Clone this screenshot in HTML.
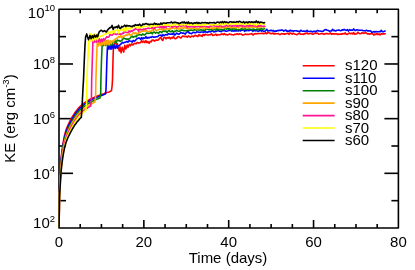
<!DOCTYPE html>
<html><head><meta charset="utf-8"><style>html,body{margin:0;padding:0;background:#fff}body{width:415px;height:270px;overflow:hidden;position:relative;font-family:"Liberation Sans",sans-serif}</style></head><body>
<svg width="415" height="270" viewBox="0 0 415 270" style="position:absolute;left:0;top:0;will-change:transform;transform:translateZ(0)">
<g stroke="#000" stroke-width="1.6" fill="none" stroke-linecap="butt" stroke-linejoin="round">
<rect x="59.00" y="9.30" width="339.40" height="218.70"/>
<line x1="80.21" y1="228.00" x2="80.21" y2="224.00"/>
<line x1="80.21" y1="9.30" x2="80.21" y2="13.30"/>
<line x1="101.42" y1="228.00" x2="101.42" y2="224.00"/>
<line x1="101.42" y1="9.30" x2="101.42" y2="13.30"/>
<line x1="122.64" y1="228.00" x2="122.64" y2="224.00"/>
<line x1="122.64" y1="9.30" x2="122.64" y2="13.30"/>
<line x1="143.85" y1="228.00" x2="143.85" y2="220.00"/>
<line x1="143.85" y1="9.30" x2="143.85" y2="17.30"/>
<line x1="165.06" y1="228.00" x2="165.06" y2="224.00"/>
<line x1="165.06" y1="9.30" x2="165.06" y2="13.30"/>
<line x1="186.28" y1="228.00" x2="186.28" y2="224.00"/>
<line x1="186.28" y1="9.30" x2="186.28" y2="13.30"/>
<line x1="207.49" y1="228.00" x2="207.49" y2="224.00"/>
<line x1="207.49" y1="9.30" x2="207.49" y2="13.30"/>
<line x1="228.70" y1="228.00" x2="228.70" y2="220.00"/>
<line x1="228.70" y1="9.30" x2="228.70" y2="17.30"/>
<line x1="249.91" y1="228.00" x2="249.91" y2="224.00"/>
<line x1="249.91" y1="9.30" x2="249.91" y2="13.30"/>
<line x1="271.12" y1="228.00" x2="271.12" y2="224.00"/>
<line x1="271.12" y1="9.30" x2="271.12" y2="13.30"/>
<line x1="292.34" y1="228.00" x2="292.34" y2="224.00"/>
<line x1="292.34" y1="9.30" x2="292.34" y2="13.30"/>
<line x1="313.55" y1="228.00" x2="313.55" y2="220.00"/>
<line x1="313.55" y1="9.30" x2="313.55" y2="17.30"/>
<line x1="334.76" y1="228.00" x2="334.76" y2="224.00"/>
<line x1="334.76" y1="9.30" x2="334.76" y2="13.30"/>
<line x1="355.98" y1="228.00" x2="355.98" y2="224.00"/>
<line x1="355.98" y1="9.30" x2="355.98" y2="13.30"/>
<line x1="377.19" y1="228.00" x2="377.19" y2="224.00"/>
<line x1="377.19" y1="9.30" x2="377.19" y2="13.30"/>
<line x1="59.00" y1="200.66" x2="66.00" y2="200.66"/>
<line x1="398.40" y1="200.66" x2="391.40" y2="200.66"/>
<line x1="59.00" y1="173.32" x2="73.00" y2="173.32"/>
<line x1="398.40" y1="173.32" x2="384.40" y2="173.32"/>
<line x1="59.00" y1="145.99" x2="66.00" y2="145.99"/>
<line x1="398.40" y1="145.99" x2="391.40" y2="145.99"/>
<line x1="59.00" y1="118.65" x2="73.00" y2="118.65"/>
<line x1="398.40" y1="118.65" x2="384.40" y2="118.65"/>
<line x1="59.00" y1="91.31" x2="66.00" y2="91.31"/>
<line x1="398.40" y1="91.31" x2="391.40" y2="91.31"/>
<line x1="59.00" y1="63.98" x2="73.00" y2="63.98"/>
<line x1="398.40" y1="63.98" x2="384.40" y2="63.98"/>
<line x1="59.00" y1="36.64" x2="66.00" y2="36.64"/>
<line x1="398.40" y1="36.64" x2="391.40" y2="36.64"/>
</g>
<g fill="none" stroke-width="1.6" stroke-linejoin="round" stroke-linecap="butt">
<polyline points="59.1,228.0 59.4,196.8 60.0,177.0 60.1,175.0 61.0,160.2 61.1,158.6 62.0,150.5 63.0,143.5 63.1,142.8 64.0,138.1 64.5,135.5 65.0,133.7 66.0,130.0 67.0,127.5 68.0,125.0 69.0,123.0 70.0,121.0 71.0,119.2 72.0,117.4 72.5,116.5 73.0,115.7 74.0,114.1 75.0,112.5 76.0,111.2 77.0,109.9 77.5,109.3 78.0,108.7 79.0,107.6 80.0,106.5 81.0,105.6 82.0,104.8 83.0,103.9 83.5,103.5 84.0,103.1 85.0,102.4 86.0,101.7 87.0,101.0 88.0,100.5 89.0,99.9 90.0,99.3 91.0,98.8 92.0,98.3 93.0,97.9 94.0,97.5 95.0,97.0 96.0,96.6 97.0,96.2 98.0,95.8 99.0,95.4 100.0,95.1 101.0,94.7 102.0,94.3 103.0,94.0 104.0,93.7 105.0,93.3 106.0,92.9 107.0,92.6 108.0,92.2 109.0,91.9 110.0,91.5 111.0,90.8 111.3,90.6 111.5,90.6 112.1,86.0 112.5,80.0 113.0,60.0 113.4,48.0 114.0,44.5 114.8,43.2 116.7,44.5 117.4,43.6 118.4,47.5 119.3,51.0 120.0,46.9 121.1,52.8 122.2,47.3 123.7,52.1 124.8,45.4 125.9,49.1 127.2,45.0 128.1,47.3 129.3,44.3 130.4,45.8 131.5,43.9 133.0,45.0 134.4,43.2 135.9,43.9 137.4,42.4 138.5,43.1 139.5,42.7 140.6,42.6 141.6,40.6 142.7,42.3 143.8,41.0 144.8,42.7 145.9,40.7 146.9,42.7 148.0,41.6 149.1,43.3 150.1,41.3 151.2,41.8 152.2,40.0 153.3,40.1 154.4,41.1 155.4,40.3 156.5,39.9 157.5,40.2 158.6,39.8 159.7,38.1 160.7,37.4 161.8,39.7 162.8,40.5 163.9,37.3 165.0,37.6 166.0,38.8 167.1,37.5 168.1,38.1 169.2,37.2 170.3,38.9 171.3,37.5 172.4,38.1 173.4,36.3 174.5,38.4 175.6,38.7 176.6,38.3 177.7,36.8 178.7,36.6 179.8,37.4 180.9,37.9 181.9,36.7 183.0,36.0 184.0,36.4 185.1,36.6 186.2,36.2 187.2,37.2 188.3,35.9 189.3,36.7 190.4,37.1 191.5,36.2 192.5,36.1 193.6,36.8 194.6,35.6 195.7,35.4 196.8,36.0 197.8,36.6 198.9,34.6 199.9,35.8 201.0,35.2 202.1,36.5 203.1,34.3 204.2,35.5 205.2,34.2 206.3,34.8 207.4,35.0 208.4,35.1 209.5,34.7 210.5,34.7 211.6,33.7 212.7,35.5 213.7,35.3 214.8,34.7 215.8,34.1 216.9,35.5 218.0,34.6 219.0,34.9 220.1,34.8 221.1,34.2 222.2,33.8 223.3,34.7 224.3,33.6 225.4,34.7 226.4,34.4 227.5,34.9 228.6,34.6 229.6,34.0 230.7,34.2 231.7,34.8 232.8,34.8 233.9,35.0 234.9,34.2 236.0,34.5 237.0,33.7 238.1,34.4 239.2,33.9 240.2,34.0 241.3,34.1 242.3,35.0 243.4,34.9 244.5,34.6 245.5,34.0 246.6,34.5 247.6,34.3 248.7,34.5 249.8,34.0 250.8,34.0 251.9,33.6 252.9,35.0 254.0,34.2 255.1,33.6 256.1,33.9 257.2,33.5 258.2,33.6 259.3,33.5 260.4,33.5 261.4,33.4 262.5,33.2 263.5,33.8 264.6,33.5 265.7,32.7 266.7,33.8 267.8,32.6 268.8,32.6 269.9,33.4 271.0,33.6 272.0,33.6 273.1,33.1 274.1,34.2 275.2,33.4 276.3,33.7 277.3,33.8 278.4,33.5 279.4,34.5 280.5,34.4 281.6,33.5 282.6,33.9 283.7,33.7 284.7,34.3 285.8,33.8 286.9,33.6 287.9,33.1 289.0,34.4 290.0,32.9 291.1,33.5 292.2,34.1 293.2,33.2 294.3,33.8 295.3,34.3 296.4,34.6 297.5,34.4 298.5,33.6 299.6,33.3 300.6,34.1 301.7,34.3 302.8,34.1 303.8,34.4 304.9,33.4 305.9,33.6 307.0,32.9 308.1,33.9 309.1,33.7 310.2,33.4 311.2,33.5 312.3,34.1 313.4,34.1 314.4,33.4 315.5,33.3 316.5,33.4 317.6,33.1 318.7,34.2 319.7,34.0 320.8,33.7 321.8,33.5 322.9,33.6 324.0,34.4 325.0,33.7 326.1,33.5 327.1,33.6 328.2,34.0 329.3,33.8 330.3,32.9 331.4,34.2 332.4,33.8 333.5,33.9 334.6,33.7 335.6,34.1 336.7,33.8 337.7,34.5 338.8,34.0 339.9,34.4 340.9,33.9 342.0,34.1 343.0,33.5 344.1,33.9 345.2,32.9 346.2,34.3 347.3,34.4 348.3,33.7 349.4,33.0 350.5,33.8 351.5,33.2 352.6,34.0 353.6,32.5 354.7,34.3 355.8,33.9 356.8,33.7 357.9,32.2 358.9,33.3 360.0,33.8 361.1,33.4 362.1,32.6 363.2,33.4 364.2,33.0 365.3,32.7 366.4,33.1 367.4,34.0 368.5,33.8 369.5,34.3 370.6,33.8 371.7,33.8 372.7,33.8 373.8,35.1 374.8,34.1 375.9,34.5 377.0,33.4 378.0,34.7 379.1,33.9 380.1,34.9 381.2,33.7 382.3,34.1 383.3,33.7 384.4,33.9 385.4,33.7 385.6,34.0" stroke="#ff0000"/>
<polyline points="59.1,228.0 59.4,196.8 60.0,179.1 60.1,177.1 61.0,162.3 61.1,160.7 62.0,152.6 63.0,145.6 63.1,144.9 64.0,140.2 64.5,137.6 65.0,135.8 66.0,132.1 67.0,129.6 68.0,127.1 69.0,125.1 70.0,123.0 71.0,121.2 72.0,119.4 72.5,118.4 73.0,117.6 74.0,116.0 75.0,114.4 76.0,113.0 77.0,111.7 77.5,111.1 78.0,110.5 79.0,109.3 80.0,108.2 81.0,107.3 82.0,106.4 83.0,105.5 83.5,105.1 84.0,104.7 85.0,103.9 86.0,103.2 87.0,102.4 88.0,101.9 89.0,101.3 90.0,100.7 91.0,100.1 92.0,99.6 93.0,99.1 94.0,98.6 95.0,98.2 96.0,97.7 97.0,97.3 98.0,96.9 99.0,96.4 100.0,96.0 101.0,95.7 102.0,95.3 103.0,94.9 104.0,94.5 105.0,94.1 105.4,94.0 106.0,90.0 106.3,80.0 106.9,60.0 107.4,48.0 107.8,44.0 108.9,49.1 109.9,44.8 111.0,49.3 112.0,44.3 113.1,48.8 114.2,44.9 115.2,48.5 116.3,45.6 117.3,48.3 118.4,45.8 119.5,45.4 120.5,44.3 121.6,43.5 122.6,42.4 123.7,42.9 124.8,42.3 125.8,42.2 126.9,41.3 127.9,42.2 129.0,40.7 130.1,41.0 131.1,41.2 132.2,42.2 133.2,40.5 134.3,41.2 135.4,40.5 136.4,39.1 137.5,38.5 138.5,38.1 139.6,38.0 140.7,39.5 141.7,37.5 142.8,39.0 143.8,37.9 144.9,38.2 146.0,36.6 147.0,38.3 148.1,37.3 149.1,38.0 150.2,37.1 151.3,37.5 152.3,36.5 153.4,37.1 154.4,37.1 155.5,37.0 156.6,36.7 157.6,36.7 158.7,35.6 159.7,35.3 160.8,35.0 161.9,36.4 162.9,34.5 164.0,35.5 165.0,35.1 166.1,34.6 167.2,34.9 168.2,33.9 169.3,33.9 170.3,34.2 171.4,33.9 172.5,34.2 173.5,32.9 174.6,35.1 175.6,34.3 176.7,33.1 177.8,34.0 178.8,34.3 179.9,33.4 180.9,32.5 182.0,33.1 183.1,33.1 184.1,33.3 185.2,34.1 186.2,32.7 187.3,31.9 188.4,31.5 189.4,33.3 190.5,33.3 191.5,33.8 192.6,32.7 193.7,32.3 194.7,32.8 195.8,32.8 196.8,31.8 197.9,32.0 199.0,32.3 200.0,32.4 201.1,32.0 202.1,32.0 203.2,32.1 204.3,31.9 205.3,31.7 206.4,32.1 207.4,32.5 208.5,31.7 209.6,31.4 210.6,31.9 211.7,30.9 212.7,30.9 213.8,31.9 214.9,31.6 215.9,31.5 217.0,31.1 218.0,30.4 219.1,31.1 220.2,31.1 221.2,31.7 222.3,30.7 223.3,30.8 224.4,30.5 225.5,31.1 226.5,31.2 227.6,31.0 228.6,30.4 229.7,30.2 230.8,30.6 231.8,31.1 232.9,30.7 233.9,31.1 235.0,30.7 236.1,31.0 237.1,30.3 238.2,31.1 239.2,29.9 240.3,31.0 241.4,30.2 242.4,30.2 243.5,30.0 244.5,31.3 245.6,30.3 246.7,30.7 247.7,30.1 248.8,30.7 249.8,30.2 250.9,30.2 252.0,30.5 253.0,31.3 254.1,30.2 255.1,30.9 256.2,30.6 257.3,30.9 258.3,31.2 259.4,30.8 260.4,29.9 261.5,31.1 262.6,30.5 263.6,31.5 264.7,31.3 265.7,30.6 266.8,29.3 267.9,31.1 268.9,30.6 270.0,30.7 271.0,30.1 272.1,31.0 273.2,30.4 274.2,31.4 275.3,30.9 276.3,31.3 277.4,30.5 278.5,30.6 279.5,30.3 280.6,30.4 281.6,29.9 282.7,30.2 283.8,31.1 284.8,30.5 285.9,30.0 286.9,31.3 288.0,30.9 289.1,31.3 290.1,30.2 291.2,31.0 292.2,30.6 293.3,31.2 294.4,30.7 295.4,30.8 296.5,30.7 297.5,31.3 298.6,31.2 299.7,31.7 300.7,30.3 301.8,30.9 302.8,31.3 303.9,31.0 305.0,31.3 306.0,31.4 307.1,30.4 308.1,31.3 309.2,31.6 310.3,31.2 311.3,31.2 312.4,32.0 313.4,31.4 314.5,31.2 315.6,31.9 316.6,30.9 317.7,30.5 318.7,31.0 319.8,31.0 320.9,31.3 321.9,31.4 323.0,31.3 324.0,30.5 325.1,29.7 326.2,29.6 327.2,30.2 328.3,30.5 329.3,31.1 330.4,31.0 331.5,31.0 332.5,29.3 333.6,30.6 334.6,30.4 335.7,31.0 336.8,30.3 337.8,30.2 338.9,30.1 339.9,30.5 341.0,30.8 342.1,29.7 343.1,30.2 344.2,29.4 345.2,30.0 346.3,30.4 347.4,29.7 348.4,31.1 349.5,29.6 350.5,30.2 351.6,30.0 352.7,30.3 353.7,28.9 354.8,30.4 355.8,30.4 356.9,29.8 358.0,30.0 359.0,30.2 360.1,30.3 361.1,30.3 362.2,30.3 363.3,30.8 364.3,30.8 365.4,30.9 366.4,30.3 367.5,30.9 368.6,30.7 369.6,31.0 370.7,30.9 371.7,32.4 372.8,32.0 373.9,31.5 374.9,32.2 376.0,31.5 377.0,31.8 378.1,31.7 379.2,31.6 380.2,31.7 381.3,30.3 382.3,31.8 383.4,31.8 384.5,31.3 385.5,30.8 385.6,30.8" stroke="#0000ff"/>
<polyline points="59.1,228.0 59.4,196.8 60.0,181.2 60.1,179.2 61.0,164.4 61.1,162.8 62.0,154.7 63.0,147.7 63.1,147.0 64.0,142.3 64.5,139.7 65.0,137.9 66.0,134.2 67.0,131.7 68.0,129.2 69.0,127.2 70.0,125.1 71.0,123.3 72.0,121.4 72.5,120.5 73.0,119.7 74.0,118.0 75.0,116.4 76.0,115.1 77.0,113.7 77.5,113.1 78.0,112.5 79.0,111.3 80.0,110.2 81.0,109.3 82.0,108.4 83.0,107.5 83.5,107.0 84.0,106.6 85.0,105.9 86.0,105.1 87.0,104.4 88.0,103.8 89.0,103.2 90.0,102.6 91.0,102.0 92.0,101.5 93.0,101.0 94.0,100.5 95.0,100.0 96.0,99.6 97.0,99.1 98.0,98.7 99.0,98.2 100.0,97.9 100.7,93.0 100.9,80.0 101.5,60.0 102.0,48.0 102.4,42.0 103.5,45.6 104.5,41.0 105.6,45.5 106.6,41.1 107.7,45.7 108.8,41.6 109.8,45.5 110.9,41.6 111.9,44.9 113.0,41.8 114.1,42.1 115.1,40.9 116.2,42.8 117.2,40.0 118.3,40.7 119.4,40.6 120.4,41.5 121.5,40.6 122.5,39.5 123.6,38.0 124.7,38.5 125.7,38.9 126.8,39.1 127.8,39.1 128.9,39.1 130.0,38.4 131.0,37.0 132.1,36.1 133.1,37.3 134.2,36.8 135.3,36.1 136.3,36.8 137.4,34.6 138.4,35.0 139.5,34.5 140.6,34.8 141.6,35.3 142.7,33.9 143.7,34.8 144.8,34.9 145.9,33.7 146.9,33.0 148.0,33.4 149.0,33.3 150.1,33.2 151.2,32.2 152.2,33.9 153.3,32.3 154.3,32.0 155.4,33.1 156.5,32.3 157.5,32.8 158.6,33.4 159.6,31.7 160.7,31.8 161.8,32.6 162.8,31.3 163.9,31.0 164.9,31.5 166.0,31.0 167.1,32.4 168.1,31.1 169.2,30.4 170.2,31.7 171.3,31.6 172.4,30.7 173.4,32.2 174.5,31.2 175.5,31.4 176.6,30.2 177.7,30.9 178.7,31.3 179.8,31.1 180.8,30.2 181.9,29.9 183.0,30.5 184.0,30.6 185.1,30.7 186.1,30.8 187.2,30.5 188.3,30.4 189.3,30.2 190.4,30.1 191.4,30.1 192.5,30.4 193.6,30.1 194.6,29.8 195.7,30.0 196.7,30.1 197.8,29.3 198.9,30.1 199.9,30.0 201.0,29.8 202.0,30.4 203.1,30.1 204.2,30.1 205.2,30.2 206.3,28.8 207.3,29.0 208.4,29.7 209.5,29.6 210.5,29.2 211.6,30.0 212.6,29.6 213.7,29.8 214.8,28.9 215.8,30.2 216.9,28.3 217.9,30.0 219.0,29.0 220.1,29.9 221.1,29.3 222.2,29.6 223.2,29.8 224.3,29.2 225.4,28.2 226.4,29.1 227.5,28.1 228.5,29.1 229.6,28.7 230.7,29.6 231.7,28.7 232.8,29.5 233.8,28.3 234.9,29.4 236.0,28.9 237.0,29.7 238.1,29.9 239.1,29.6 240.2,29.3 241.3,28.9 242.3,28.7 243.4,30.1 244.4,28.2 245.5,29.2 246.6,29.2 247.6,29.7 248.7,28.7 249.7,29.3 250.8,29.2 251.9,29.9 252.9,29.0 254.0,29.2 255.0,29.5 256.1,29.8 257.2,28.8 258.2,29.5 259.3,29.0 260.3,29.4 261.4,28.3 262.5,29.5 263.5,29.0 264.6,28.8 265.0,29.2" stroke="#008000"/>
<polyline points="59.1,228.0 59.4,196.8 60.0,183.2 60.1,181.2 61.0,166.4 61.1,164.8 62.0,156.7 63.0,149.7 63.1,149.0 64.0,144.3 64.5,141.7 65.0,139.9 66.0,136.2 67.0,133.7 68.0,131.2 69.0,129.2 70.0,127.1 71.0,125.3 72.0,123.4 72.5,122.5 73.0,121.7 74.0,120.1 75.0,118.4 76.0,117.1 77.0,115.8 77.5,115.1 78.0,114.5 79.0,113.4 80.0,112.2 81.0,111.3 82.0,110.4 83.0,109.5 83.5,109.1 84.0,108.7 85.0,107.9 86.0,107.2 87.0,106.4 88.0,105.8 89.0,105.2 90.0,104.6 91.0,104.1 92.0,103.6 93.0,103.1 94.0,102.6 94.8,102.2 95.6,97.0 95.9,80.0 96.5,60.0 97.0,48.0 97.4,40.0 98.5,45.9 99.5,39.9 100.6,45.4 101.6,39.7 102.7,44.7 103.8,40.5 104.8,44.9 105.9,40.6 106.9,44.5 108.0,40.0 109.1,44.8 110.1,40.8 111.2,43.7 112.2,40.8 113.3,41.8 114.4,39.7 115.4,39.1 116.5,38.2 117.5,38.1 118.6,36.4 119.7,37.3 120.7,35.6 121.8,37.9 122.8,36.3 123.9,35.9 125.0,36.0 126.0,34.9 127.1,35.3 128.1,34.7 129.2,33.6 130.3,35.4 131.3,34.8 132.4,33.7 133.4,32.6 134.5,33.7 135.6,32.6 136.6,33.6 137.7,34.0 138.7,32.5 139.8,32.6 140.9,31.6 141.9,31.2 143.0,31.2 144.0,30.8 145.1,31.3 146.2,30.4 147.2,31.3 148.3,31.5 149.3,31.6 150.4,31.1 151.5,31.2 152.5,30.0 153.6,30.1 154.6,28.0 155.7,30.3 156.8,30.4 157.8,29.9 158.9,29.6 159.9,28.9 161.0,29.2 162.1,30.3 163.1,28.7 164.2,29.2 165.2,29.3 166.3,28.8 167.4,28.9 168.4,29.0 169.5,28.6 170.5,29.1 171.6,27.9 172.7,28.1 173.7,27.8 174.8,28.7 175.8,28.2 176.9,28.5 178.0,27.8 179.0,29.2 180.1,27.9 181.1,28.2 182.2,27.7 183.3,28.6 184.3,27.3 185.4,28.2 186.4,27.7 187.5,29.0 188.6,28.5 189.6,28.0 190.7,28.5 191.7,28.4 192.8,28.4 193.9,28.3 194.9,27.6 196.0,29.0 197.0,28.7 198.1,28.5 199.2,28.7 200.2,27.5 201.3,27.8 202.3,27.9 203.4,27.6 204.5,28.7 205.5,27.9 206.6,28.1 207.6,28.2 208.7,27.6 209.8,27.9 210.8,28.4 211.9,27.4 212.9,28.8 214.0,27.4 215.1,28.5 216.1,27.5 217.2,27.4 218.2,27.5 219.3,28.3 220.4,27.0 221.4,28.1 222.5,27.0 223.5,28.3 224.6,27.1 225.7,27.7 226.7,27.4 227.8,26.7 228.8,27.0 229.9,27.0 231.0,27.9 232.0,26.8 233.1,27.6 234.1,27.5 235.2,27.5 236.3,27.4 237.3,27.1 238.4,27.9 239.4,26.7 240.5,26.6 241.6,27.0 242.6,27.4 243.7,27.8 244.7,27.4 245.8,26.8 246.9,27.3 247.9,28.0 249.0,27.7 250.0,26.2 251.1,27.2 252.2,27.2 253.2,26.6 254.3,27.2 255.3,27.0 256.4,27.1 257.5,27.8 258.5,27.1 259.6,26.6 260.6,27.1 261.7,26.8 262.8,26.8 263.8,27.4 264.9,26.7 265.0,27.2" stroke="#ffa500"/>
<polyline points="59.1,228.0 59.4,196.8 60.0,185.3 60.1,183.3 61.0,168.5 61.1,166.9 62.0,158.8 63.0,151.8 63.1,151.1 64.0,146.4 64.5,143.8 65.0,142.0 66.0,138.3 67.0,135.8 68.0,133.3 69.0,131.2 70.0,129.2 71.0,127.3 72.0,125.5 72.5,124.5 73.0,123.7 74.0,122.1 75.0,120.4 76.0,119.1 77.0,117.7 77.5,117.1 78.0,116.5 79.0,115.3 80.0,114.1 81.0,113.2 82.0,112.3 83.0,111.4 83.5,110.9 84.0,110.5 85.0,109.8 86.0,109.0 87.0,108.2 88.0,107.6 89.0,107.0 90.0,106.4 90.6,106.0 91.4,101.0 91.7,80.0 92.3,60.0 92.7,48.0 93.0,38.5 94.1,42.5 95.1,38.4 96.2,42.2 97.2,38.9 98.3,41.7 99.4,38.7 100.4,41.9 101.5,39.2 102.5,41.3 103.6,38.6 104.7,39.9 105.7,38.3 106.8,36.7 107.8,37.2 108.9,37.0 110.0,34.4 111.0,35.0 112.1,35.2 113.1,34.3 114.2,33.6 115.3,34.1 116.3,34.6 117.4,33.9 118.4,33.5 119.5,34.3 120.6,33.9 121.6,34.2 122.7,33.1 123.7,33.3 124.8,30.6 125.9,32.4 126.9,32.5 128.0,32.6 129.0,30.8 130.1,32.0 131.2,30.7 132.2,31.2 133.3,30.1 134.3,29.9 135.4,28.6 136.5,29.2 137.5,29.1 138.6,31.4 139.6,28.2 140.7,29.8 141.8,29.6 142.8,29.8 143.9,28.9 144.9,29.2 146.0,28.7 147.1,28.6 148.1,28.1 149.2,28.6 150.2,28.1 151.3,28.5 152.4,27.4 153.4,28.8 154.5,27.9 155.5,27.7 156.6,26.6 157.7,27.0 158.7,27.0 159.8,27.5 160.8,26.6 161.9,27.9 163.0,26.2 164.0,28.0 165.1,25.9 166.1,27.5 167.2,26.1 168.3,26.1 169.3,26.4 170.4,26.8 171.4,26.4 172.5,27.2 173.6,26.2 174.6,26.2 175.7,26.4 176.7,27.4 177.8,26.7 178.9,25.8 179.9,25.7 181.0,26.3 182.0,25.9 183.1,25.6 184.2,25.8 185.2,26.0 186.3,25.6 187.3,27.3 188.4,26.4 189.5,26.7 190.5,26.6 191.6,26.6 192.6,26.6 193.7,27.0 194.8,26.6 195.8,26.8 196.9,26.7 197.9,26.8 199.0,26.2 200.1,26.7 201.1,26.5 202.2,26.3 203.2,26.3 204.3,26.3 205.4,26.2 206.4,26.7 207.5,26.7 208.5,27.3 209.6,26.5 210.7,26.0 211.7,25.9 212.8,25.4 213.8,25.7 214.9,25.9 216.0,26.0 217.0,26.4 218.1,26.4 219.1,26.4 220.2,25.4 221.3,26.1 222.3,26.8 223.4,26.5 224.4,26.2 225.5,26.3 226.6,24.9 227.6,26.1 228.7,25.8 229.7,25.7 230.8,25.6 231.9,26.4 232.9,25.8 234.0,26.1 235.0,25.6 236.1,26.1 237.2,25.9 238.2,26.1 239.3,25.3 240.3,25.7 241.4,25.0 242.5,26.4 243.5,25.7 244.6,26.5 245.6,26.2 246.7,25.5 247.8,25.7 248.8,26.3 249.9,24.9 250.9,26.1 252.0,25.7 253.1,25.8 254.1,26.0 255.2,25.5 256.2,25.8 257.3,26.6 258.4,25.5 259.4,26.5 260.5,25.5 261.5,26.0 262.6,26.2 263.7,26.3 264.7,26.1 265.0,25.8" stroke="#ff1493"/>
<polyline points="59.1,228.0 59.4,196.8 60.0,187.4 60.1,185.4 61.0,170.6 61.1,169.0 62.0,160.9 63.0,153.9 63.1,153.2 64.0,148.5 64.5,145.9 65.0,144.1 66.0,140.4 67.0,137.9 68.0,135.4 69.0,133.3 70.0,131.2 71.0,129.3 72.0,127.4 72.5,126.4 73.0,125.6 74.0,123.9 75.0,122.2 76.0,120.8 77.0,119.4 77.5,118.7 78.0,118.1 79.0,116.8 80.0,115.6 81.0,114.7 82.0,113.7 83.0,112.7 83.5,112.2 84.0,111.8 85.0,111.0 85.8,110.4 86.6,104.0 86.9,80.0 87.8,60.0 88.6,42.0 90.0,33.5 91.1,41.3 92.1,34.6 93.2,40.9 94.2,34.1 95.3,40.0 96.4,34.6 97.4,39.8 98.5,35.5 99.5,35.5 100.6,36.4 101.7,36.3 102.7,35.5 103.8,34.5 104.8,34.2 105.9,33.4 107.0,33.6 108.0,32.0 109.1,33.1 110.1,33.2 111.2,31.3 112.3,32.9 113.3,30.8 114.4,32.6 115.4,30.0 116.5,30.1 117.6,29.8 118.6,33.1 119.7,28.3 120.7,29.8 121.8,29.0 122.9,30.4 123.9,27.8 125.0,31.1 126.0,27.3 127.1,30.6 128.2,28.4 129.2,28.2 130.3,28.8 131.3,27.2 132.4,27.8 133.5,27.2 134.5,26.4 135.6,27.1 136.6,27.2 137.7,28.5 138.8,26.8 139.8,28.1 140.9,26.3 141.9,27.4 143.0,26.8 144.1,26.5 145.1,26.5 146.2,26.6 147.2,26.2 148.3,25.3 149.4,25.9 150.4,27.2 151.5,24.6 152.5,26.0 153.6,25.5 154.7,26.0 155.7,25.6 156.8,26.1 157.8,25.0 158.9,25.6 160.0,24.6 161.0,24.6 162.1,24.6 163.1,25.3 164.2,24.8 165.3,25.0 166.3,24.5 167.4,25.7 168.4,24.7 169.5,25.2 170.6,25.9 171.6,24.8 172.7,24.7 173.7,25.3 174.8,23.4 175.9,24.6 176.9,24.5 178.0,25.2 179.0,24.1 180.1,24.8 181.2,24.6 182.2,24.9 183.3,24.2 184.3,25.0 185.4,24.7 186.5,24.3 187.5,23.1 188.6,25.0 189.6,25.1 190.7,24.8 191.8,25.5 192.8,24.3 193.9,24.8 194.9,25.3 196.0,24.3 197.1,24.9 198.1,24.7 199.2,25.3 200.2,25.2 201.3,24.9 202.4,24.0 203.4,25.5 204.5,24.7 205.5,25.3 206.6,23.8 207.7,24.7 208.7,23.8 209.8,24.4 210.8,24.7 211.9,24.9 213.0,24.9 214.0,24.2 215.1,24.9 216.1,24.6 217.2,24.5 218.3,24.8 219.3,24.3 220.4,24.6 221.4,23.3 222.5,24.5 223.6,24.0 224.6,24.2 225.7,23.5 226.7,23.7 227.8,24.8 228.9,24.2 229.9,23.6 231.0,24.5 232.0,23.5 233.1,23.7 234.2,24.0 235.2,24.1 236.3,23.9 237.3,24.3 238.4,23.5 239.5,23.9 240.5,23.9 241.6,24.0 242.6,23.8 243.7,24.5 244.8,24.0 245.8,24.7 246.9,23.5 247.9,24.2 249.0,23.8 250.1,23.6 251.1,24.2 252.2,24.3 253.2,23.5 254.3,24.7 255.4,24.2 256.4,25.2 257.5,23.8 258.5,24.1 259.6,23.8 260.7,23.9 261.7,23.8 262.8,23.6 263.8,24.3 264.9,24.3 265.0,24.3" stroke="#ffff00"/>
<polyline points="59.1,228.0 59.4,196.8 60.0,189.5 60.1,187.5 61.0,172.7 61.1,171.1 62.0,163.0 63.0,156.0 63.1,155.3 64.0,150.6 64.5,148.0 65.0,146.2 66.0,142.5 67.0,140.0 68.0,137.5 69.0,135.5 70.0,133.4 71.0,131.6 72.0,129.7 72.5,128.8 73.0,128.0 74.0,126.4 75.0,124.7 76.0,123.4 77.0,122.1 77.5,121.4 78.0,120.9 79.0,119.7 80.0,118.5 81.0,117.7 81.3,117.4 82.0,108.0 83.0,88.0 83.5,80.0 84.3,60.0 85.0,45.0 85.6,37.0 86.7,33.9 87.6,37.0 88.5,39.8 89.3,37.5 90.0,35.4 91.1,38.7 92.2,35.7 93.3,38.0 94.4,35.0 95.6,37.2 96.7,35.0 97.6,36.9 98.4,34.0 99.3,31.7 100.4,30.8 101.5,30.2 103.0,31.7 104.4,30.6 106.3,32.0 108.1,29.4 110.0,27.6 111.1,27.4 112.1,25.4 113.2,29.5 114.2,27.2 115.3,27.6 116.4,26.6 117.4,27.8 118.5,25.3 119.5,28.0 120.6,28.5 121.7,26.4 122.7,27.0 123.8,26.1 124.8,25.2 125.9,26.6 127.0,25.3 128.0,26.0 129.1,25.8 130.1,26.0 131.2,26.4 132.3,26.6 133.3,25.6 134.4,25.9 135.4,24.6 136.5,25.3 137.6,24.9 138.6,25.2 139.7,24.2 140.7,25.6 141.8,25.6 142.9,23.9 143.9,24.6 145.0,24.0 146.0,23.5 147.1,24.1 148.2,24.1 149.2,24.7 150.3,24.2 151.3,24.3 152.4,24.3 153.5,24.5 154.5,23.1 155.6,24.2 156.6,23.8 157.7,24.5 158.8,24.1 159.8,24.6 160.9,23.0 161.9,24.3 163.0,23.0 164.1,23.0 165.1,23.2 166.2,23.2 167.2,22.7 168.3,22.8 169.4,22.8 170.4,22.7 171.5,21.9 172.5,23.1 173.6,22.6 174.7,22.4 175.7,22.3 176.8,22.9 177.8,22.7 178.9,23.7 180.0,23.1 181.0,22.9 182.1,22.0 183.1,22.9 184.2,21.9 185.3,23.2 186.3,22.3 187.4,23.5 188.4,21.9 189.5,23.5 190.6,23.0 191.6,22.9 192.7,23.8 193.7,23.1 194.8,22.7 195.9,23.2 196.9,22.4 198.0,23.5 199.0,22.5 200.1,23.4 201.2,23.0 202.2,22.6 203.3,22.8 204.3,22.8 205.4,22.6 206.5,22.9 207.5,22.8 208.6,23.4 209.6,22.5 210.7,22.8 211.8,22.8 212.8,22.8 213.9,22.4 214.9,23.1 216.0,23.0 217.1,22.0 218.1,22.2 219.2,22.9 220.2,22.0 221.3,22.7 222.4,21.5 223.4,22.8 224.5,21.7 225.5,22.5 226.6,22.0 227.7,22.6 228.7,22.6 229.8,21.8 230.8,21.8 231.9,22.2 233.0,22.0 234.0,22.1 235.1,22.2 236.1,22.1 237.2,21.6 238.3,22.2 239.3,21.3 240.4,21.7 241.4,22.2 242.5,22.5 243.6,21.6 244.6,23.0 245.7,22.2 246.7,22.0 247.8,22.8 248.9,21.8 249.9,22.0 251.0,22.4 252.0,21.8 253.1,22.5 254.2,21.8 255.2,22.5 256.3,21.0 257.3,22.6 258.4,21.7 259.5,22.9 260.5,22.0 261.6,22.3 262.6,22.5 263.7,23.0 264.8,22.5 265.0,22.3" stroke="#000000"/>
</g>
<g stroke-width="1.6" fill="none">
<line x1="302.7" y1="65.80" x2="334.6" y2="65.80" stroke="#ff0000"/>
<line x1="302.7" y1="78.25" x2="334.6" y2="78.25" stroke="#0000ff"/>
<line x1="302.7" y1="90.70" x2="334.6" y2="90.70" stroke="#008000"/>
<line x1="302.7" y1="103.15" x2="334.6" y2="103.15" stroke="#ffa500"/>
<line x1="302.7" y1="115.60" x2="334.6" y2="115.60" stroke="#ff1493"/>
<line x1="302.7" y1="128.05" x2="334.6" y2="128.05" stroke="#ffff00"/>
<line x1="302.7" y1="140.50" x2="334.6" y2="140.50" stroke="#000000"/>
</g>
<g font-family="Liberation Sans, sans-serif" font-size="15px" fill="#000">
<text x="345" y="70.40">s120</text>
<text x="345" y="82.85">s110</text>
<text x="345" y="95.30">s100</text>
<text x="345" y="107.75">s90</text>
<text x="345" y="120.20">s80</text>
<text x="345" y="132.65">s70</text>
<text x="345" y="145.10">s60</text>
<text x="59.00" y="247.0" text-anchor="middle">0</text>
<text x="143.85" y="247.0" text-anchor="middle">20</text>
<text x="228.70" y="247.0" text-anchor="middle">40</text>
<text x="313.55" y="247.0" text-anchor="middle">60</text>
<text x="398.40" y="247.0" text-anchor="middle">80</text>
<text x="228" y="263.2" text-anchor="middle">Time (days)</text>
<text x="55.1" y="228.40" text-anchor="end">10<tspan font-size="9.5px" dy="-6.5">2</tspan></text>
<text x="55.1" y="178.72" text-anchor="end">10<tspan font-size="9.5px" dy="-6.5">4</tspan></text>
<text x="55.1" y="124.05" text-anchor="end">10<tspan font-size="9.5px" dy="-6.5">6</tspan></text>
<text x="55.1" y="69.38" text-anchor="end">10<tspan font-size="9.5px" dy="-6.5">8</tspan></text>
<text x="55.1" y="17.80" text-anchor="end">10<tspan font-size="9.5px" dy="-6.5">10</tspan></text>
<text transform="translate(15.2,118.6) rotate(-90)" text-anchor="middle">KE (erg cm<tspan font-size="9.5px" dy="-6.5">-3</tspan><tspan dy="6.5">)</tspan></text>
</g>
</svg>
</body></html>
